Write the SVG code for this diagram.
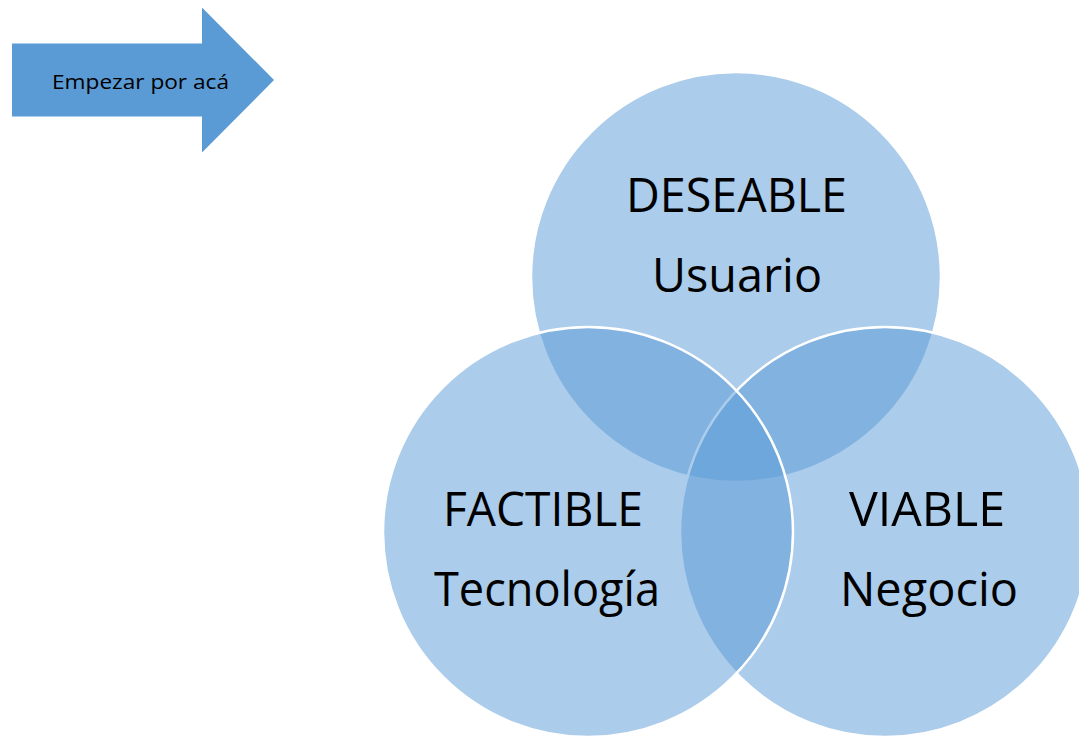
<svg xmlns="http://www.w3.org/2000/svg" width="1079" height="736" viewBox="0 0 1079 736">
<style>
.c{fill:#5B9BD5;fill-opacity:0.51;stroke:#FFFFFF;stroke-width:2.5}
.big{font-family:"Open Sans","Liberation Sans",sans-serif;font-size:48px;fill:#000000;text-anchor:start}
.small{font-family:"Open Sans","Liberation Sans",sans-serif;font-size:20px;fill:#000000}
</style>
<rect width="1079" height="736" fill="#FFFFFF"/>
<g id="arrow">
<polygon points="12,43.5 202,43.5 202,7.5 274,80 202,152.5 202,116.5 12,116.5" fill="#5B9BD5"/>
<text class="small" x="52" y="88.5" textLength="177" lengthAdjust="spacingAndGlyphs">Empezar por acá</text>
</g>
<g id="deseable">
<circle class="c" cx="736" cy="277" r="205"/>
</g>
<g id="viable">
<circle class="c" cx="885" cy="532" r="205"/>
</g>
<g id="factible">
<circle class="c" cx="588" cy="532" r="205"/>
</g>
<g id="labels">
<text class="big" x="626" y="212" textLength="221" lengthAdjust="spacingAndGlyphs">DESEABLE</text>
<text class="big" x="652" y="292" textLength="170" lengthAdjust="spacingAndGlyphs">Usuario</text>
<text class="big" x="443" y="526" textLength="200" lengthAdjust="spacingAndGlyphs">FACTIBLE</text>
<text class="big" x="434" y="606" textLength="226" lengthAdjust="spacingAndGlyphs">Tecnología</text>
<text class="big" x="849" y="526" textLength="156" lengthAdjust="spacingAndGlyphs">VIABLE</text>
<text class="big" x="840" y="606" textLength="178" lengthAdjust="spacingAndGlyphs">Negocio</text>
</g>
<g id="connectors"/>
</svg>
